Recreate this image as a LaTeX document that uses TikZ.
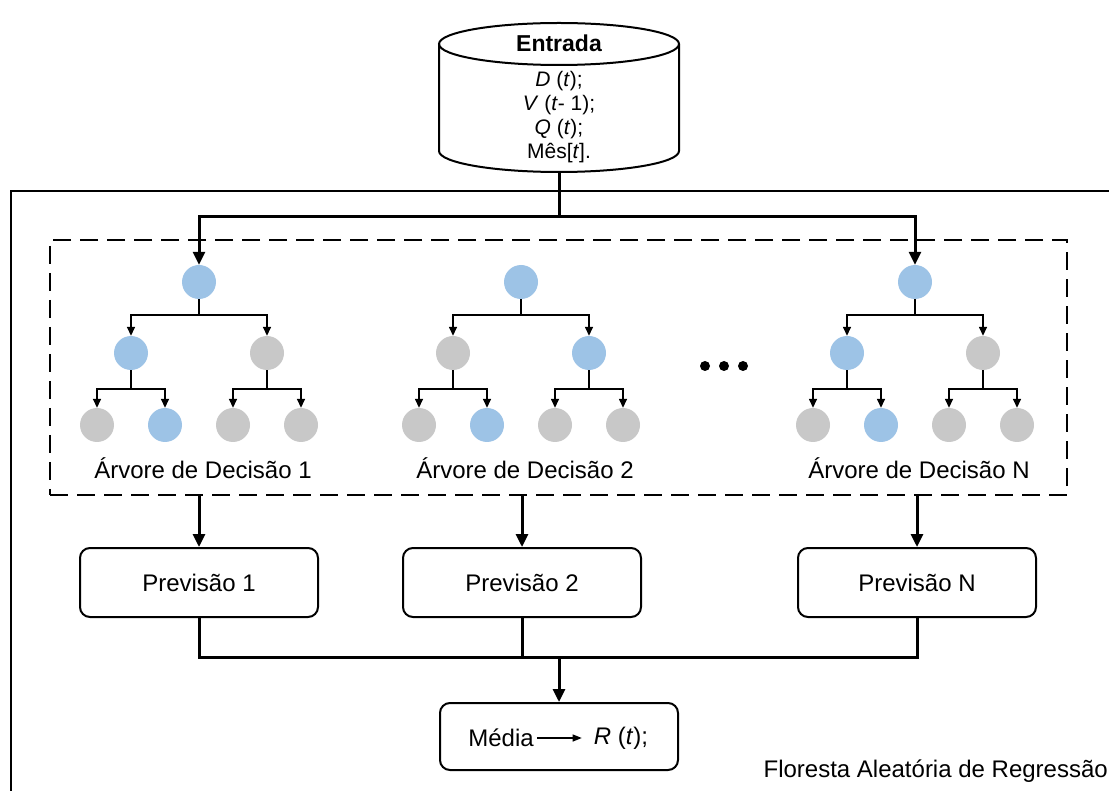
\documentclass[tikz,border=0pt]{standalone}
\usepackage{fontspec}
\setmainfont{Liberation Sans}
\usetikzlibrary{arrows.meta,positioning}
\definecolor{azul}{RGB}{157,195,230}
\definecolor{cinza}{RGB}{200,200,200}
\tikzset{
  no/.style={circle,minimum size=34pt,inner sep=0pt},
  ramo/.style={line width=1.5pt,-{Triangle[length=9pt,width=8pt]}},
  liga/.style={line width=3pt},
  seta/.style={liga,-{Triangle[length=13pt,width=12pt]}},
  caixa/.style={draw,line width=2pt,rounded corners=10pt,minimum width=238pt,minimum height=69pt},
  tracejado/.style={draw,line width=2pt,dash pattern=on 18pt off 9pt},
}

\begin{document}
\begin{tikzpicture}[x=1pt,y=-1pt,font=\fontsize{24}{28}\selectfont]
  \useasboundingbox (0,0) rectangle (1109,791);
  % moldura da floresta
  \draw[line width=2pt] (1130,191) -- (11,191) -- (11,810);
  \node[anchor=east,inner sep=0pt] (rotulo) at (1108,771) {Floresta Aleatória de Regressão};

  % entrada (cilindro)
  \draw[line width=2pt,fill=white] (439,44) -- (439,151)
    arc[start angle=180,end angle=0,x radius=120,y radius=21] -- (679,44);
  \draw[line width=2pt] (559,44) ellipse[x radius=120,y radius=21];
  \node[minimum width=240pt,minimum height=149pt] (entrada) at (559,97.5) {};
  \node[font=\fontsize{23}{27}\selectfont\bfseries] (titulo) at (559,43) {Entrada};
  \node[align=center,font=\fontsize{21}{24}\selectfont] (dados) at (559,117)
    {\textit{D} (\textit{t});\\ \textit{V} (\textit{t}- 1);\\ \textit{Q} (\textit{t});\\ Mês[\textit{t}].};

  % arvores
  \node[tracejado,minimum width=1017pt,minimum height=255pt] (floresta) at (558.5,367.5) {};
  \foreach \t/\x/\ca/\cb/\nome in {1/199/azul/cinza/1, 2/521/cinza/azul/2, 3/915/azul/cinza/N}{
    \node[no,fill=azul] (a\t-r) at (\x,282) {};
    \node[no,fill=\ca] (a\t-a) at (\x-68,353) {};
    \node[no,fill=\cb] (a\t-b) at (\x+68,353) {};
    \node[no,fill=cinza] (a\t-aa) at (\x-102,425) {};
    \node[no,fill=azul] (a\t-ab) at (\x-34,425) {};
    \node[no,fill=cinza] (a\t-ba) at (\x+34,425) {};
    \node[no,fill=cinza] (a\t-bb) at (\x+102,425) {};
    \draw[ramo] (a\t-r.south) -- ++(0,16) -| (a\t-a.north);
    \draw[ramo] (a\t-r.south) -- ++(0,16) -| (a\t-b.north);
    \draw[ramo] (a\t-a.south) -- ++(0,19) -| (a\t-aa.north);
    \draw[ramo] (a\t-a.south) -- ++(0,19) -| (a\t-ab.north);
    \draw[ramo] (a\t-b.south) -- ++(0,19) -| (a\t-ba.north);
    \draw[ramo] (a\t-b.south) -- ++(0,19) -| (a\t-bb.north);
    \node (arv\t) at (\x+4,468) {Árvore de Decisão \nome};
  }
  \foreach \i/\x in {1/705,2/724,3/743}
    \node[circle,fill,minimum size=10pt,inner sep=0pt] (p\i) at (\x,366) {};

  \coordinate (bif) at (559,217);
  \draw[liga] (entrada.south) -- (bif);
  \draw[seta] (bif) -| (a1-r.north);
  \draw[seta] (bif) -| (a3-r.north);

  % previsoes
  \foreach \i/\x/\nome in {1/199/1, 2/522/2, 3/917/N}{
    \node[caixa] (prev\i) at (\x,582.5) {Previsão \nome};
    \draw[seta] (prev\i.north |- floresta.south) -- (prev\i.north);
  }

  % media
  \node[caixa,minimum height=67pt] (media) at (559,736.5) {};
  \node (mtxt) at (501,738) {Média};
  \node[inner sep=2pt] (rt) at (621,738) {\textit{R} (\textit{t});};
  \draw[line width=1.2pt,-{Triangle[length=9pt,width=7pt]},shorten >=10pt] (mtxt) -- (rt);

  \coordinate (juncao) at (559,657);
  \draw[liga] (prev1.south) |- (juncao) -| (prev3.south);
  \draw[liga] (prev2.south) -- (prev2.south |- juncao);
  \draw[seta] (juncao) -- (media.north);
\end{tikzpicture}
\end{document}
